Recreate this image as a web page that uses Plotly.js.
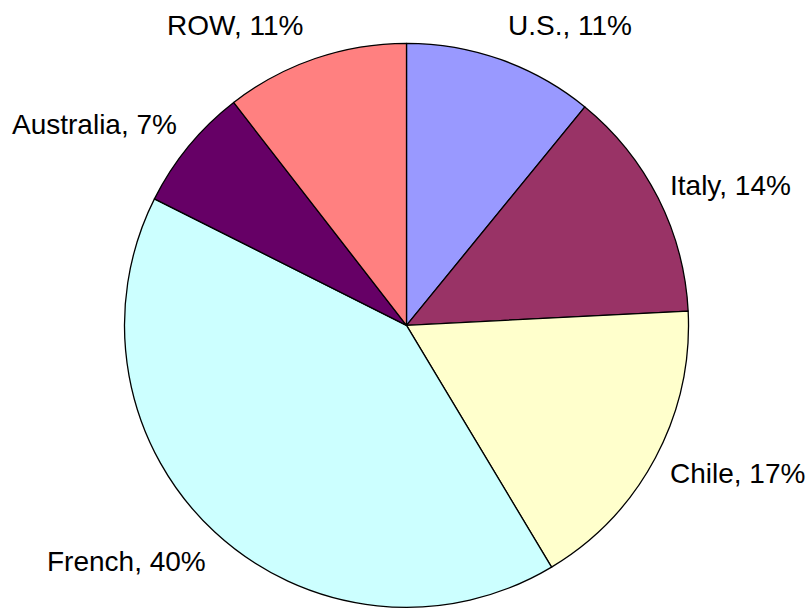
<!DOCTYPE html>
<html>
<head>
<meta charset="utf-8">
<script src="https://cdn.plot.ly/plotly-3.0.1.min.js"></script>
<style>html,body{margin:0;padding:0;background:#fff;}#chart{width:812px;height:612px;}</style>
</head>
<body>
<div id="chart"></div>
<script>
// Data
var categories = ['U.S.', 'Italy', 'Chile', 'French', 'Australia', 'ROW'];
var shares = [10.9, 13.3, 17.2, 41.0, 7.1, 10.5];          // slice sizes as drawn
var labelPercents = [11, 14, 17, 40, 7, 11];                // percentages printed on labels
var sliceColors = ['#9999FF', '#993366', '#FFFFCC', '#CCFFFF', '#660066', '#FF8080'];

// Label placement (pixel anchor: left edge, vertical middle)
var labelPos = [
  [507, 26], [669, 185], [669, 473], [46, 561], [11, 125], [166, 26]
];

var W = 812, H = 612;
var cx = 406.5, cy = 325.3, R = 282;

var trace = {
  type: 'pie',
  labels: categories,
  values: shares,
  sort: false,
  direction: 'clockwise',
  rotation: 0,
  textinfo: 'none',
  hoverinfo: 'label+percent',
  marker: { colors: sliceColors, line: { color: '#000000', width: 1.3 } },
  domain: {
    x: [(cx - R) / W, (cx + R) / W],
    y: [(H - cy - R) / H, (H - cy + R) / H]
  },
  showlegend: false
};

var annotations = categories.map(function (c, i) {
  return {
    text: c + ', ' + labelPercents[i] + '%',
    xref: 'paper', yref: 'paper',
    x: labelPos[i][0] / W,
    y: 1 - labelPos[i][1] / H,
    xanchor: 'left', yanchor: 'middle',
    showarrow: false,
    borderpad: 0,
    font: { family: 'Liberation Sans, Arial, sans-serif', size: 28, color: '#000000' }
  };
});

var layout = {
  width: W, height: H,
  margin: { l: 0, r: 0, t: 0, b: 0, pad: 0 },
  paper_bgcolor: '#ffffff',
  plot_bgcolor: '#ffffff',
  showlegend: false,
  annotations: annotations
};

Plotly.newPlot('chart', [trace], layout, { staticPlot: true, displayModeBar: false });
</script>
</body>
</html>
